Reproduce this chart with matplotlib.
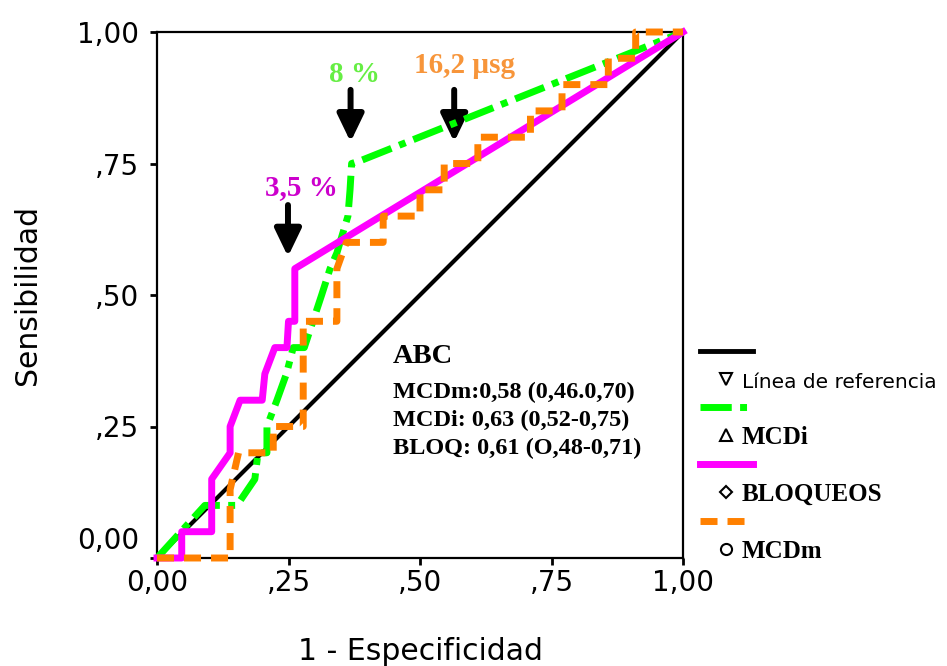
import matplotlib
matplotlib.use('Agg')
import matplotlib.pyplot as plt
from matplotlib.lines import Line2D
import matplotlib.transforms as mtransforms

# ---------------- data ----------------
ref_x = [0.0, 1.0]
ref_y = [0.0, 1.0]

mcdi_x = [0.0, 0.091, 0.152, 0.186, 0.192, 0.209, 0.209, 0.228, 0.246, 0.259,
          0.280, 0.313, 0.329, 0.342, 0.363, 0.367, 0.370, 0.386, 1.0]
mcdi_y = [0.0, 0.100, 0.100, 0.150, 0.200, 0.200, 0.250, 0.300, 0.350, 0.400,
          0.400, 0.500, 0.550, 0.580, 0.650, 0.700, 0.750, 0.755, 1.0]

bloq_x = [0.0, 0.047, 0.047, 0.104, 0.104, 0.139, 0.139, 0.158, 0.200, 0.205,
          0.224, 0.247, 0.250, 0.262, 0.262, 1.0]
bloq_y = [0.0, 0.000, 0.050, 0.050, 0.150, 0.200, 0.250, 0.300, 0.300, 0.350,
          0.400, 0.400, 0.450, 0.450, 0.550, 1.0]

mcdm_x = [0.0, 0.139, 0.139, 0.155, 0.221, 0.221, 0.278, 0.278, 0.342, 0.342,
          0.360, 0.430, 0.430, 0.500, 0.500, 0.546, 0.546, 0.610, 0.610, 0.710,
          0.710, 0.770, 0.770, 0.858, 0.858, 0.910, 0.910, 1.0]
mcdm_y = [0.0, 0.000, 0.130, 0.200, 0.200, 0.250, 0.250, 0.450, 0.450, 0.550,
          0.600, 0.600, 0.650, 0.650, 0.700, 0.700, 0.750, 0.750, 0.800, 0.800,
          0.850, 0.850, 0.900, 0.900, 0.950, 0.950, 1.000, 1.0]

tick_vals = [0.0, 0.25, 0.50, 0.75, 1.0]
tick_labels = ['0,00', ',25', ',50', ',75', '1,00']

series_labels = ['Línea de referencia', 'MCDi', 'BLOQUEOS', 'MCDm']

# cut-off annotations: label, text (x, y), arrow tail (x, y), arrow tip (x, y)
cut_labels = ['3,5 %', '8 %', '16,2 µsg']
cut_text_x = [0.274, 0.376, 0.584]
cut_text_y = [0.690, 0.905, 0.922]
cut_tail_x = [0.249, 0.368, 0.565]
cut_tail_y = [0.671, 0.890, 0.890]
cut_tip_y = [0.573, 0.791, 0.791]
cut_colors = ['#CC00CC', '#66EE44', '#F7953A']

auc_lines = ['ABC', 'MCDm:0,58 (0,46.0,70)', 'MCDi: 0,63 (0,52-0,75)',
             'BLOQ: 0,61 (O,48-0,71)']
auc_y = [0.371, 0.304, 0.250, 0.197]
auc_sizes = [20.5, 17.5, 17.5, 17.5]

# ---------------- styles ----------------
c_ref, c_mcdi, c_bloq, c_mcdm = 'black', '#00FF00', '#FF00FF', '#FF8000'
dash_mcdi = (4.5, 1.2, 1.0, 1.2)
dash_mcdm = (2.45, 1.44)
serif_bold = dict(family='Liberation Serif', weight='bold')

W, H = 947, 666
fig = plt.figure(figsize=(W / 100, H / 100), dpi=100)
ax = fig.add_axes([157 / W, 1 - 558 / H, 526 / W, 526 / H])

ax.plot(ref_x, ref_y, color=c_ref, lw=3, clip_on=False, zorder=3)
ax.plot(mcdi_x, mcdi_y, color=c_mcdi, lw=5, dashes=dash_mcdi, clip_on=False, zorder=4)
ax.plot(bloq_x, bloq_y, color=c_bloq, lw=5, clip_on=False, zorder=5)
ax.plot(mcdm_x, mcdm_y, color=c_mcdm, lw=5, dashes=dash_mcdm, clip_on=False, zorder=6)

ax.set_xlim(0, 1)
ax.set_ylim(0, 1)
ax.set_xticks(tick_vals)
ax.set_xticklabels(tick_labels)
ax.set_yticks(tick_vals)
ax.set_yticklabels(tick_labels)
ax.tick_params(axis='both', direction='out', length=5, width=2, labelsize=20)
ax.tick_params(axis='x', pad=3)
ax.tick_params(axis='y', pad=8)
for s in ax.spines.values():
    s.set_linewidth(1.6)

# raise the 0,00 y tick label as in reference
lab0 = ax.get_yticklabels()[0]
lab0.set_transform(lab0.get_transform() +
                   mtransforms.ScaledTranslation(0, 0.2, fig.dpi_scale_trans))

ax.set_xlabel('1 - Especificidad', fontsize=21.5, labelpad=29)
ax.set_ylabel('Sensibilidad', fontsize=21.5, labelpad=25)

# cut-off labels and arrows
for lab, tx, ty, ax0, ay0, ay1, col in zip(cut_labels, cut_text_x, cut_text_y,
                                           cut_tail_x, cut_tail_y, cut_tip_y, cut_colors):
    ax.text(tx, ty, lab, color=col, fontsize=21, ha='center', va='baseline',
            **serif_bold)
    ax.annotate('', xy=(ax0, ay1), xytext=(ax0, ay0),
                arrowprops=dict(arrowstyle='-|>,head_length=0.83,head_width=0.4',
                                mutation_scale=20, lw=4.3, color='black',
                                shrinkA=0, shrinkB=0))

# AUC text block
for txt, yy, fs in zip(auc_lines, auc_y, auc_sizes):
    ax.text(0.449, yy, txt, fontsize=fs, ha='left', va='baseline', **serif_bold)

# legend (SPSS style: line sample row, then marker + label row)
handles = [
    Line2D([], [], color=c_ref, lw=3.5),
    Line2D([], [], ls='none', marker='v', mfc='none', mec='black', ms=8, mew=1.5),
    Line2D([], [], color=c_mcdi, lw=5, dashes=dash_mcdi),
    Line2D([], [], ls='none', marker='^', mfc='none', mec='black', ms=8, mew=1.5),
    Line2D([], [], color=c_bloq, lw=5),
    Line2D([], [], ls='none', marker='D', mfc='none', mec='black', ms=6, mew=1.5),
    Line2D([], [], color=c_mcdm, lw=5, dashes=dash_mcdm),
    Line2D([], [], ls='none', marker='o', mfc='none', mec='black', ms=8, mew=1.5),
]
labels = ['', series_labels[0], '', series_labels[1], '', series_labels[2], '',
          series_labels[3]]
leg = ax.legend(handles, labels, loc='upper left',
                bbox_to_anchor=(700 / W, 1 - 342 / H), bbox_transform=fig.transFigure,
                frameon=False, borderpad=0, borderaxespad=0, handlelength=2.1,
                handletextpad=-0.42, labelspacing=0.22,
                prop=dict(family='Liberation Serif', weight='bold', size=18))
texts = leg.get_texts()
texts[1].set_fontproperties(dict(family='DejaVu Sans', weight='normal', size=14.5))

fig.savefig('out.png', dpi=100)
